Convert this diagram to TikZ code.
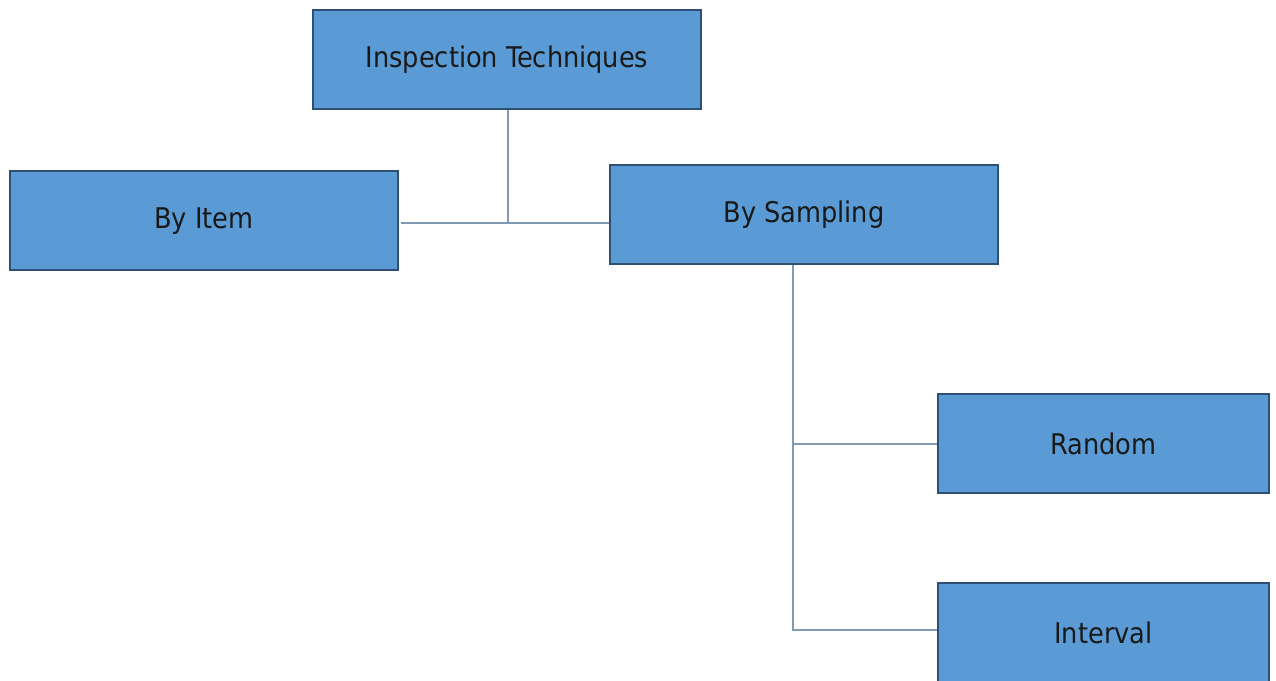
\documentclass[tikz,border=0pt]{standalone}
\usepackage{fontspec}
\setmainfont{DejaVu Sans Condensed}
\definecolor{boxfill}{HTML}{5B9BD5}
\definecolor{boxdraw}{HTML}{2F4F75}
\definecolor{linec}{HTML}{7F9AB5}
\begin{document}
\begin{tikzpicture}[x=1pt,y=1pt,
  box/.style={draw=boxdraw,line width=2pt,fill=boxfill,minimum height=99pt,inner sep=0pt,font=\fontsize{28.5}{34}\selectfont,text=black!90},
  wide/.style={box,minimum width=388pt},
  narrow/.style={box,minimum width=331pt},
  conn/.style={draw=linec,line width=1.8pt}]
\useasboundingbox (0,0) rectangle (1276,680);
\node[wide] (top) at (507,620) {Inspection Techniques};
\node[wide] (item) at (204,459) {By Item};
\node[wide] (samp) at (804,465) {By Sampling};
\node[narrow] (rand) at (1103.5,236) {Random};
\node[narrow,anchor=north] (intv) at (1103.5,98) {Interval};
\coordinate (j1) at (508,457);
\coordinate (j2) at (793,50);
\draw[conn] (item.east) ++(2,-2) coordinate (ie) -- (samp.west |- ie);
\draw[conn] (top.south -| j1) -- (j1);
\draw[conn] (samp.south -| j2) -- (j2) -- (intv.west |- j2);
\draw[conn] (j2 |- rand.west) -- (rand.west);
\end{tikzpicture}
\end{document}
